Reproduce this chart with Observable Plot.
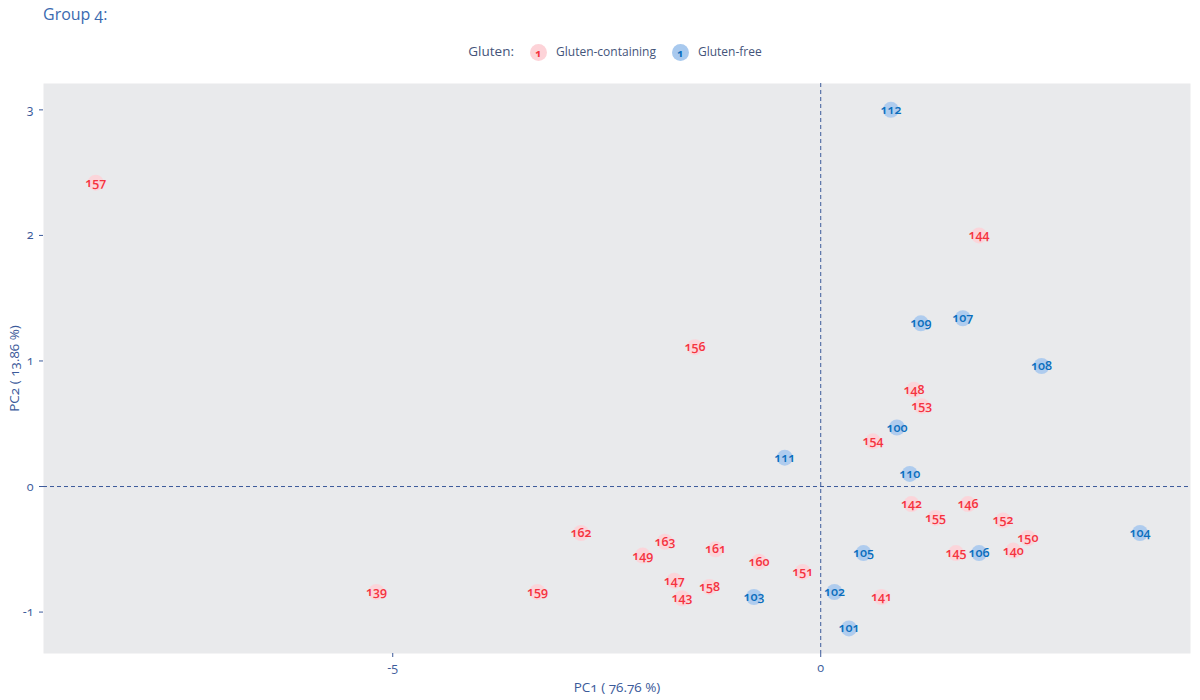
<!DOCTYPE html>
<html>
<head>
<meta charset="utf-8">
<script src="https://cdn.jsdelivr.net/npm/d3@7"></script>
<script src="https://cdn.jsdelivr.net/npm/@observablehq/plot@0.6"></script>
<style>
  body { margin: 0; background: #fff; font-family: "Open Sans", sans-serif; font-variant-numeric: oldstyle-nums; }
  #wrap { position: relative; width: 1200px; height: 700px; }
  #title { position: absolute; left: 43px; top: 3px; font-size: 16px; color: #3a6ab0; }
  #legend { position: absolute; left: 21px; width: 1200px; top: 42px; text-align: center; font-size: 12px; color: #44547a; }
  #legend span.lab { margin-right: 12px; }
  .key { display: inline-block; width: 17px; height: 17px; border-radius: 50%; text-align: center; line-height: 17px; font-size: 11px; font-weight: bold; vertical-align: middle; margin: 0 9px 0 4px; }
  #legend .t { font-size: 13.5px; margin-right: 12px; }
  #chart { position: absolute; left: 0; top: 70px; }
  svg text { font-family: "Open Sans", sans-serif; font-variant-numeric: oldstyle-nums; }
</style>
</head>
<body>
<div id="wrap">
  <div id="title">Group 4:</div>
  <div id="legend"></div>
  <div id="chart"></div>
</div>
<script>
const ids    = ["112","107","109","108","100","111","110","104","105","106","102","103","101",
                "157","144","156","148","153","154","142","146","155","152","150","140","145",
                "162","163","161","149","160","151","147","158","143","139","159","141"];
const pc1    = [0.82,1.66,1.17,2.58,0.89,-0.42,1.04,3.73,0.50,1.85,0.16,-0.78,0.33,
                -8.47,1.85,-1.47,1.09,1.18,0.61,1.06,1.72,1.34,2.13,2.42,2.25,1.58,
                -2.80,-1.82,-1.23,-2.08,-0.72,-0.21,-1.71,-1.30,-1.62,-5.19,-3.31,0.71];
const pc2    = [3.00,1.34,1.30,0.96,0.47,0.23,0.10,-0.37,-0.53,-0.53,-0.84,-0.88,-1.13,
                2.42,2.00,1.11,0.77,0.64,0.36,-0.14,-0.14,-0.25,-0.27,-0.41,-0.51,-0.53,
                -0.37,-0.44,-0.50,-0.55,-0.60,-0.68,-0.75,-0.80,-0.89,-0.84,-0.84,-0.88];
const gluten = ["Gluten-free","Gluten-free","Gluten-free","Gluten-free","Gluten-free","Gluten-free","Gluten-free","Gluten-free","Gluten-free","Gluten-free","Gluten-free","Gluten-free","Gluten-free",
                "Gluten-containing","Gluten-containing","Gluten-containing","Gluten-containing","Gluten-containing","Gluten-containing","Gluten-containing","Gluten-containing","Gluten-containing","Gluten-containing","Gluten-containing","Gluten-containing","Gluten-containing",
                "Gluten-containing","Gluten-containing","Gluten-containing","Gluten-containing","Gluten-containing","Gluten-containing","Gluten-containing","Gluten-containing","Gluten-containing","Gluten-containing","Gluten-containing","Gluten-containing"];
const groups = ["Gluten-containing","Gluten-free"];
const dotColors  = ["#fdd3d8","#a8c9ee"];
const textColors = ["#f5333f","#0a6ebd"];
const xTicks = [-5, 0];
const yTicks = [-1, 0, 1, 2, 3];

const data = ids.map((id, i) => ({id, pc1: pc1[i], pc2: pc2[i], gluten: gluten[i]}));

// legend
const leg = document.getElementById("legend");
leg.innerHTML = `<span class="t">Gluten:</span>` + groups.map((g, i) =>
  `<span class="key" style="background:${dotColors[i]};color:${textColors[i]}">1</span><span class="lab">${g}</span>`).join("");

const axisColor = "#3b5a9a";
const chart = Plot.plot({
  width: 1200,
  height: 630,
  marginLeft: 43,
  marginRight: 10,
  marginTop: 13,
  marginBottom: 47,
  x: {domain: [-9.08, 4.32], ticks: xTicks, tickFormat: d => d, label: null},
  y: {domain: [-1.33, 3.21], ticks: yTicks, tickFormat: d => d, label: null},
  color: {domain: groups, range: dotColors},
  style: {fontSize: "12px", color: axisColor, background: "transparent"},
  marks: [
    Plot.frame({fill: "#e9eaec", stroke: null}),
    Plot.ruleX([0], {stroke: axisColor, strokeDasharray: "4,3", strokeWidth: 1}),
    Plot.ruleY([0], {stroke: axisColor, strokeDasharray: "4,3", strokeWidth: 1}),
    Plot.axisX({ticks: xTicks, tickSize: 4, tickPadding: 6, stroke: axisColor, fill: axisColor, fontSize: 12.5, tickFormat: d => d}),
    Plot.axisY({ticks: yTicks, tickSize: 4, tickPadding: 6, stroke: axisColor, fill: axisColor, fontSize: 12.5, tickFormat: d => d}),
    Plot.text(["PC1 ( 76.76 %)"], {frameAnchor: "bottom", dy: 38, fill: axisColor, fontSize: 13.5}),
    Plot.text(["PC2 ( 13.86 %)"], {frameAnchor: "left", textAnchor: "middle", dx: -29, rotate: -90, fill: axisColor, fontSize: 13.5}),
    Plot.dot(data, {x: "pc1", y: "pc2", r: 8, fill: "gluten", stroke: null, fillOpacity: 0.9}),
    Plot.text(data, {x: "pc1", y: "pc2", text: "id", fill: d => textColors[groups.indexOf(d.gluten)], fontSize: 12.5, fontWeight: 600})
  ]
});
document.getElementById("chart").appendChild(chart);
</script>
</body>
</html>
